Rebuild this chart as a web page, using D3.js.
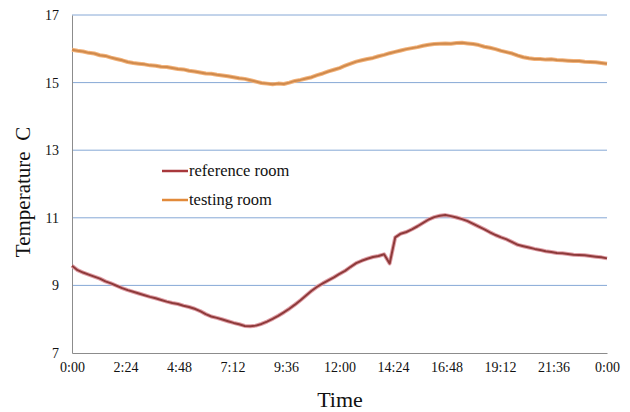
<!DOCTYPE html>
<html>
<head>
<meta charset="utf-8">
<script src="https://cdn.jsdelivr.net/npm/d3@7"></script>
<style>
body { margin: 0; background: #fff; }
text { font-family: "Liberation Serif", "Times New Roman", serif; fill: #111; }
</style>
</head>
<body>
<script>
// readings every 15 minutes, 0:00 -> 24:00
let testing = [15.97,15.94,15.92,15.88,15.86,15.81,15.79,15.74,15.70,15.66,15.61,15.58,15.56,15.54,15.51,15.50,
  15.47,15.46,15.43,15.40,15.39,15.35,15.33,15.30,15.27,15.26,15.23,15.21,15.19,15.16,15.13,15.11,
  15.07,15.03,14.99,14.97,14.95,14.97,14.96,15.00,15.05,15.08,15.12,15.16,15.22,15.27,15.33,15.38,
  15.43,15.50,15.56,15.62,15.66,15.70,15.73,15.78,15.82,15.87,15.91,15.95,15.99,16.02,16.05,16.09,
  16.12,16.14,16.15,16.16,16.15,16.17,16.18,16.16,16.14,16.11,16.06,16.03,15.99,15.94,15.90,15.86,
  15.80,15.75,15.72,15.70,15.70,15.68,15.69,15.67,15.66,15.65,15.64,15.64,15.62,15.61,15.60,15.58,15.56];

let reference = [9.58,9.45,9.38,9.32,9.26,9.20,9.12,9.06,8.99,8.92,8.86,8.81,8.76,8.71,8.66,8.62,
  8.57,8.52,8.48,8.45,8.40,8.36,8.31,8.24,8.15,8.08,8.04,7.99,7.94,7.89,7.85,7.80,
  7.79,7.81,7.86,7.93,8.01,8.10,8.20,8.31,8.43,8.56,8.70,8.84,8.96,9.06,9.15,9.24,
  9.34,9.43,9.55,9.66,9.73,9.79,9.84,9.87,9.92,9.65,10.42,10.53,10.58,10.66,10.75,10.85,
  10.95,11.02,11.06,11.08,11.05,11.01,10.96,10.90,10.82,10.74,10.66,10.57,10.49,10.42,10.36,10.28,
  10.20,10.16,10.12,10.08,10.05,10.01,9.99,9.96,9.95,9.93,9.91,9.90,9.89,9.87,9.85,9.83,9.80];

let yTicks = [7, 9, 11, 13, 15, 17];
let xTickHours = [0, 2.4, 4.8, 7.2, 9.6, 12, 14.4, 16.8, 19.2, 21.6, 24];
let xTickLabels = ["0:00","2:24","4:48","7:12","9:36","12:00","14:24","16:48","19:12","21:36","0:00"];
let seriesNames = ["reference room", "testing room"];

let svg = d3.select("body").append("svg")
    .attr("width", 630)
    .attr("height", 412);

let x = d3.scaleLinear().domain([0, 24]).range([72, 607]);
let y = d3.scaleLinear().domain([7, 17]).range([353, 15]);

// gridlines
svg.append("g")
  .selectAll("line")
  .data(yTicks.slice(1))
  .enter()
  .append("line")
  .attr("x1", 72)
  .attr("x2", 607)
  .attr("y1", d => y(d))
  .attr("y2", d => y(d))
  .attr("stroke", "#86a8d6")
  .attr("stroke-width", 1);

// axes
let yAxis = svg.append("g")
  .attr("transform", "translate(72,0)")
  .call(d3.axisLeft(y).tickValues(yTicks).tickSize(0).tickPadding(13));
yAxis.select(".domain").attr("stroke", "#8c8c8c");
yAxis.selectAll("text").style("font-size", "14px").style("font-family", "Liberation Serif");

let xAxis = svg.append("g")
  .attr("transform", "translate(0,353)")
  .call(d3.axisBottom(x).tickValues(xTickHours).tickSize(0).tickPadding(9)
    .tickFormat((d, i) => xTickLabels[i]));
xAxis.select(".domain").attr("stroke", "#8c8c8c");
xAxis.selectAll("text").style("font-size", "14px").style("font-family", "Liberation Serif");

// lines
let line = d3.line()
  .x((d, i) => x(i * 0.25))
  .y(d => y(d));

function drawSeries(data, halo, main){
    svg.append("path")
      .datum(data)
      .attr("d", line)
      .attr("fill", "none")
      .attr("stroke", halo)
      .attr("stroke-width", 4)
      .attr("stroke-linejoin", "round");
    svg.append("path")
      .datum(data)
      .attr("d", line)
      .attr("fill", "none")
      .attr("stroke", main)
      .attr("stroke-width", 2)
      .attr("stroke-linejoin", "round");
}
drawSeries(testing, "#f2b27a", "#d08a4c");
drawSeries(reference, "#e0a0a8", "#8e3a3a");

// legend
let legendColors = ["#a8383c", "#e28a3a"];
let legend = svg.append("g");
seriesNames.forEach(function(name, i){
    let ly = 171 + i * 29;
    legend.append("line")
      .attr("x1", 162).attr("x2", 188)
      .attr("y1", ly).attr("y2", ly)
      .attr("stroke", legendColors[i])
      .attr("stroke-width", 2.5);
    legend.append("text")
      .attr("x", 189)
      .attr("y", ly + 5)
      .style("font-size", "16.5px")
      .text(name);
});

// axis titles
svg.append("text")
  .attr("x", 340)
  .attr("y", 407)
  .attr("text-anchor", "middle")
  .style("font-size", "22px")
  .text("Time");

svg.append("text")
  .attr("transform", "translate(30,192) rotate(-90)")
  .attr("text-anchor", "middle")
  .style("font-size", "21px")
  .style("white-space", "pre")
  .text("Temperature  C");
</script>
</body>
</html>
